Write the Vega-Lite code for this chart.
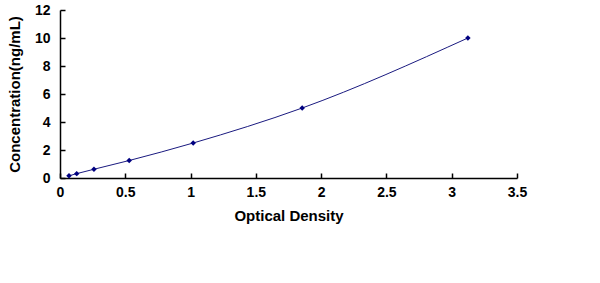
{
  "$schema": "https://vega.github.io/schema/vega-lite/v6.json",
  "autosize": "none",
  "width": 457,
  "height": 168,
  "padding": {"left": 60, "top": 10, "right": 83, "bottom": 105},
  "background": "white",
  "config": {
    "view": {"stroke": null},
    "font": "Liberation Sans",
    "axis": {
      "grid": false,
      "domainColor": "black",
      "domainWidth": 1.5,
      "tickColor": "black",
      "tickWidth": 1.5,
      "labelFont": "Liberation Sans",
      "labelFontWeight": "bold",
      "labelFontSize": 14,
      "labelColor": "black",
      "titleFont": "Liberation Sans",
      "titleFontWeight": "bold",
      "titleFontSize": 15,
      "titleColor": "black"
    }
  },
  "data": {
    "values": [
      {"od": 0.069, "conc": 0.156},
      {"od": 0.128, "conc": 0.312},
      {"od": 0.26, "conc": 0.625},
      {"od": 0.53, "conc": 1.25},
      {"od": 1.02, "conc": 2.5},
      {"od": 1.855, "conc": 5},
      {"od": 3.124, "conc": 10}
    ]
  },
  "encoding": {
    "x": {
      "field": "od", "type": "quantitative", "title": "Optical Density",
      "scale": {"domain": [0, 3.5], "nice": false},
      "axis": {"values": [0, 0.5, 1, 1.5, 2, 2.5, 3, 3.5], "format": "~g", "tickSize": -5, "labelPadding": 12, "titlePadding": 9, "labelFlush": false, "labelOverlap": false}
    },
    "y": {
      "field": "conc", "type": "quantitative", "title": "Concentration(ng/mL)",
      "scale": {"domain": [0, 12], "nice": false},
      "axis": {"values": [0, 2, 4, 6, 8, 10, 12], "format": "~g", "tickSize": -5, "labelPadding": 15, "titlePadding": 12, "labelFlush": false, "labelOverlap": false}
    }
  },
  "layer": [
    {"mark": {"type": "line", "interpolate": "monotone", "color": "#1a1a80", "strokeWidth": 1}},
    {"mark": {"type": "point", "shape": "diamond", "filled": true, "color": "#000080", "size": 30, "opacity": 1}}
  ]
}
